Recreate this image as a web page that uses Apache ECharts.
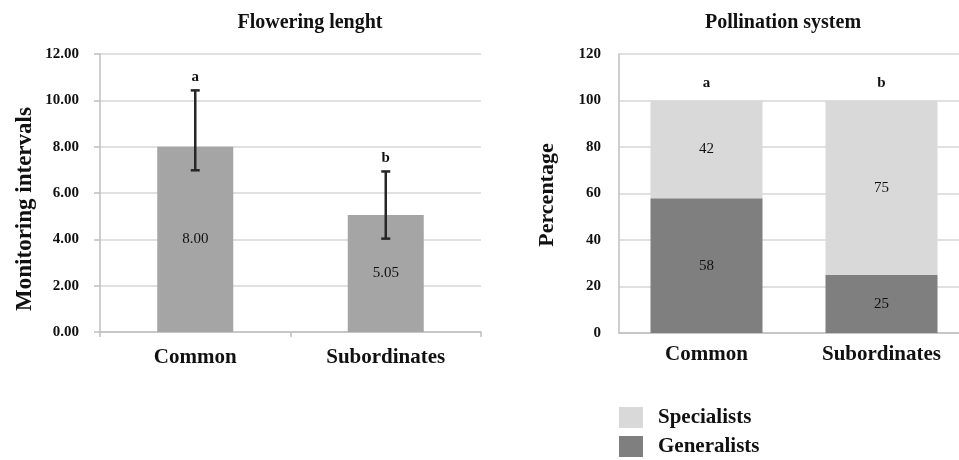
<!DOCTYPE html>
<html>
<head>
<meta charset="utf-8">
<script src="https://cdn.jsdelivr.net/npm/echarts@6/dist/echarts.min.js"></script>
<style>
  html, body { margin: 0; padding: 0; background: #fff; }
  #chart { width: 959px; height: 460px; }
</style>
</head>
<body>
<div id="chart"></div>
<script>
// Groups compared in both panels
const categories = ['Common', 'Subordinates'];

// Panel 1: flowering length (monitoring intervals), with error bar bounds
const floweringMean = [8.00, 5.05];
const floweringLow = [6.98, 4.03];
const floweringHigh = [10.43, 6.93];
const floweringLetters = ['a', 'b'];
const floweringTicks = [0, 12, 2];

// Panel 2: pollination system (% of species)
const generalists = [58, 25];
const specialists = [42, 75];
const pollinationLetters = ['a', 'b'];
const pollinationTicks = [0, 120, 20];

const SERIF = '"Liberation Serif", "DejaVu Serif", serif';
const gridColor = '#d6d6d6';
const axisColor = '#bfbfbf';

const errorData = categories.map((c, i) => [i, floweringLow[i], floweringHigh[i]]);
const totals = categories.map((c, i) => generalists[i] + specialists[i]);

const legendText = { fontFamily: SERIF, fontWeight: 'bold', fontSize: 21, color: '#111', padding: [0, 0, 0, 10] };
const axisTitle = (text, x, y, size) => ({
  type: 'text', x, y, rotation: Math.PI / 2,
  style: { text, font: 'bold ' + size + 'px ' + SERIF, fill: '#111', align: 'center', verticalAlign: 'middle' }
});

const chart = echarts.init(document.getElementById('chart'), null, { renderer: 'canvas' });

chart.setOption({
  animation: false,
  backgroundColor: '#fff',
  title: [
    { text: 'Flowering lenght', left: 305, top: 8, textAlign: 'center',
      textStyle: { fontFamily: SERIF, fontWeight: 'bold', fontSize: 20, color: '#111' } },
    { text: 'Pollination system', left: 778, top: 8, textAlign: 'center',
      textStyle: { fontFamily: SERIF, fontWeight: 'bold', fontSize: 20, color: '#111' } }
  ],
  legend: [
    { data: ['Specialists'], left: 614, top: 402, itemWidth: 24, itemHeight: 21, icon: 'rect', textStyle: legendText },
    { data: ['Generalists'], left: 614, top: 431, itemWidth: 24, itemHeight: 21, icon: 'rect', textStyle: legendText }
  ],
  graphic: [
    axisTitle('Monitoring intervals', 25, 209, 23),
    axisTitle('Percentage', 547, 195, 22)
  ],
  grid: [
    { left: 100, top: 54, width: 381, height: 278 },
    { left: 619, top: 54, width: 350, height: 279, outerBoundsMode: 'none' }
  ],
  xAxis: [
    { type: 'category', gridIndex: 0, data: categories,
      axisLine: { lineStyle: { color: axisColor, width: 1.5 } },
      axisTick: { show: true, length: 5, lineStyle: { color: axisColor, width: 1.5 } },
      axisLabel: { margin: 15, fontFamily: SERIF, fontWeight: 'bold', fontSize: 21, color: '#111' } },
    { type: 'category', gridIndex: 1, data: categories,
      axisLine: { lineStyle: { color: axisColor, width: 1.5 } },
      axisTick: { show: false },
      axisLabel: { margin: 11, fontFamily: SERIF, fontWeight: 'bold', fontSize: 21, color: '#111' } }
  ],
  yAxis: [
    { type: 'value', gridIndex: 0, min: floweringTicks[0], max: floweringTicks[1], interval: floweringTicks[2],
      axisLine: { show: true, lineStyle: { color: axisColor, width: 1.5 } },
      axisTick: { show: true, length: 6, lineStyle: { color: axisColor, width: 1.5 } },
      splitLine: { lineStyle: { color: gridColor, width: 1.5 } },
      axisLabel: { margin: 21, formatter: v => v.toFixed(2), fontFamily: SERIF, fontWeight: 'bold', fontSize: 15, color: '#111' } },
    { type: 'value', gridIndex: 1, min: pollinationTicks[0], max: pollinationTicks[1], interval: pollinationTicks[2],
      axisLine: { show: true, lineStyle: { color: axisColor, width: 1.5 } },
      axisTick: { show: false },
      splitLine: { lineStyle: { color: gridColor, width: 1.5 } },
      axisLabel: { margin: 18, fontFamily: SERIF, fontWeight: 'bold', fontSize: 15, color: '#111' } }
  ],
  series: [
    {
      name: 'Flowering', type: 'bar', xAxisIndex: 0, yAxisIndex: 0,
      data: floweringMean, barWidth: 76,
      itemStyle: { color: '#a5a5a5' },
      label: { show: true, position: 'inside', formatter: p => p.value.toFixed(2),
        fontFamily: SERIF, fontSize: 15, color: '#111' }
    },
    {
      name: 'Error', type: 'custom', xAxisIndex: 0, yAxisIndex: 0,
      data: errorData, z: 5,
      renderItem: (params, api) => {
        const x = api.value(0);
        const lo = api.coord([x, api.value(1)]);
        const hi = api.coord([x, api.value(2)]);
        const cap = 4.5;
        const style = { stroke: '#262626', lineWidth: 2.5 };
        return {
          type: 'group',
          children: [
            { type: 'line', shape: { x1: hi[0], y1: hi[1], x2: lo[0], y2: lo[1] }, style },
            { type: 'line', shape: { x1: hi[0] - cap, y1: hi[1], x2: hi[0] + cap, y2: hi[1] }, style },
            { type: 'line', shape: { x1: lo[0] - cap, y1: lo[1], x2: lo[0] + cap, y2: lo[1] }, style },
            { type: 'text', x: hi[0], y: hi[1] - 6,
              style: { text: floweringLetters[params.dataIndex], textAlign: 'center', textVerticalAlign: 'bottom',
                font: 'bold 15px ' + SERIF, fill: '#111' } }
          ]
        };
      }
    },
    {
      name: 'Generalists', type: 'bar', stack: 'poll', xAxisIndex: 1, yAxisIndex: 1,
      data: generalists, barWidth: 112,
      itemStyle: { color: '#7f7f7f' },
      label: { show: true, position: 'inside', fontFamily: SERIF, fontSize: 15, color: '#111' }
    },
    {
      name: 'Specialists', type: 'bar', stack: 'poll', xAxisIndex: 1, yAxisIndex: 1,
      data: specialists, barWidth: 112,
      itemStyle: { color: '#d9d9d9' },
      label: { show: true, position: 'inside', fontFamily: SERIF, fontSize: 15, color: '#111' }
    },
    {
      name: 'Letters', type: 'custom', xAxisIndex: 1, yAxisIndex: 1,
      data: categories.map((c, i) => [i, totals[i]]), z: 5,
      renderItem: (params, api) => {
        const p = api.coord([api.value(0), api.value(1)]);
        return { type: 'text', x: p[0], y: p[1] - 10,
          style: { text: pollinationLetters[params.dataIndex], textAlign: 'center', textVerticalAlign: 'bottom',
            font: 'bold 15px ' + SERIF, fill: '#111' } };
      }
    }
  ]
});
</script>
</body>
</html>
